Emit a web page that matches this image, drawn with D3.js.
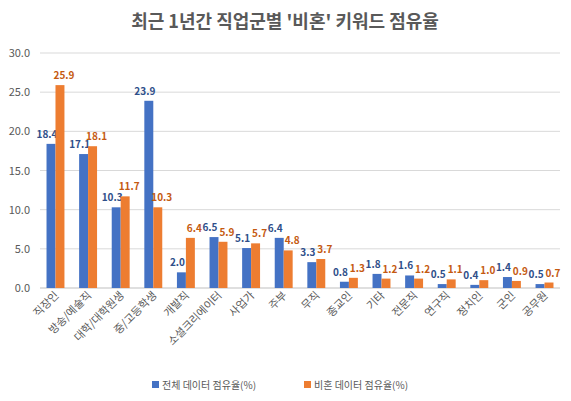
<!DOCTYPE html>
<html><head><meta charset="utf-8">
<script src="https://cdn.jsdelivr.net/npm/d3@7"></script>
<style>body{margin:0;background:#fff}text{font-family:"Noto Sans CJK KR","Noto Sans",sans-serif}</style>
</head><body>
<svg width="571" height="401"></svg>
<script>
var categories = ["직장인","방송/예술직","대학/대학원생","중/고등학생","개발직","소셜크리에이터","사업가","주부","무직","종교인","기타","전문직","연구직","정치인","군인","공무원"];
var allShare = [18.4,17.1,10.3,23.9,2.0,6.5,5.1,6.4,3.3,0.8,1.8,1.6,0.5,0.4,1.4,0.5];
var marriageShare = [25.9,18.1,11.7,10.3,6.4,5.9,5.7,4.8,3.7,1.3,1.2,1.2,1.1,1.0,0.9,0.7];
var yTicks = [0,5,10,15,20,25,30];
var seriesNames = ["전체 데이터 점유율(%)","비혼 데이터 점유율(%)"];
var colors = ["#4472c4","#ed7d31"];
var labelColors = ["#2f4f8a","#c55a11"];

var svg = d3.select("svg");
var x = d3.scaleBand().domain(categories).range([40,560]).paddingInner(0.45).paddingOuter(0.2);
var y = d3.scaleLinear().domain([0,30]).range([288,53]);

svg.append("text").attr("x",285).attr("y",28).attr("text-anchor","middle")
  .attr("font-size",18).attr("font-weight","bold").attr("fill","#595959")
  .text("최근 1년간 직업군별 '비혼' 키워드 점유율");

svg.selectAll(".grid").data(yTicks).enter().append("line")
  .attr("x1",40).attr("x2",560).attr("y1",function(d){return y(d)}).attr("y2",function(d){return y(d)})
  .attr("stroke",function(d){return d==0?"#bfbfbf":"#d9d9d9"});
svg.selectAll(".yt").data(yTicks).enter().append("text")
  .attr("x",30).attr("y",function(d){return y(d)+4}).attr("text-anchor","end")
  .attr("font-size",11).attr("fill","#595959").text(function(d){return d.toFixed(1)});

var bw = x.bandwidth()/2;
[allShare, marriageShare].forEach(function(vals, s){
  svg.selectAll(".b"+s).data(vals).enter().append("rect")
    .attr("x",function(d,i){return x(categories[i])+s*bw})
    .attr("y",function(d){return y(d)}).attr("width",bw).attr("height",function(d){return 288-y(d)})
    .attr("fill",colors[s]);
  svg.selectAll(".l"+s).data(vals).enter().append("text")
    .attr("x",function(d,i){return x(categories[i])+s*bw+bw/2+(s==0?-4:4)})
    .attr("y",function(d){return y(d)-6}).attr("text-anchor","middle")
    .attr("font-size",10).attr("font-weight","bold").attr("fill",labelColors[s])
    .text(function(d){return d.toFixed(1)});
});

svg.selectAll(".xl").data(categories).enter().append("text")
  .attr("transform",function(d){return "translate("+(x(d)+x.bandwidth()/2+4)+",296) rotate(-45)"})
  .attr("text-anchor","end").attr("font-size",11).attr("fill","#595959").text(function(d){return d});

seriesNames.forEach(function(n,s){
  var lx = s==0?152:304;
  svg.append("rect").attr("x",lx).attr("y",381).attr("width",7).attr("height",7).attr("fill",colors[s]);
  svg.append("text").attr("x",lx+10).attr("y",389).attr("font-size",10).attr("fill","#595959").text(n);
});
</script>
</body></html>
